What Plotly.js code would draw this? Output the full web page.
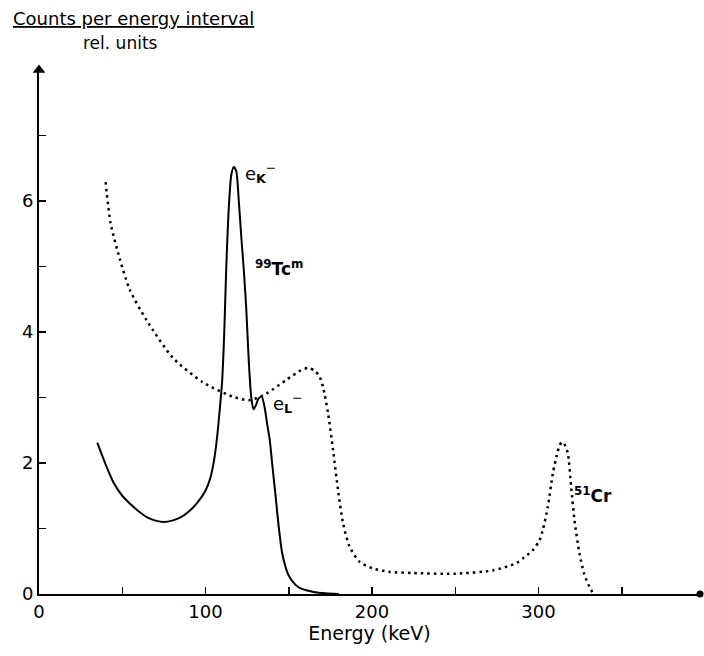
<!DOCTYPE html>
<html>
<head>
<meta charset="utf-8">
<script src="https://cdn.plot.ly/plotly-3.0.1.min.js"></script>
<style>html,body{margin:0;padding:0;background:#fff;}#chart{width:704px;height:656px;}</style>
</head>
<body>
<div id="chart"></div>
<script>
// Tc-99m conversion electron spectrum (solid)
const tcEnergy = [35, 40, 45, 50, 55, 60, 65, 70, 75, 80, 85, 90, 95, 100, 103, 105, 107, 108.5, 110, 111.2, 112.5, 114, 115.5, 117, 118.5, 120, 121.5, 123, 124.5, 126, 127.5, 128.8, 130.2, 132, 133.8, 135.5, 137, 138.6, 140, 142, 144, 146, 148, 150, 153, 156, 160, 165, 172, 180];
const tcCounts = [2.31, 1.98, 1.69, 1.5, 1.37, 1.26, 1.17, 1.12, 1.10, 1.12, 1.17, 1.26, 1.39, 1.58, 1.78, 2.02, 2.4, 2.8, 3.25, 3.95, 5.0, 5.9, 6.4, 6.52, 6.45, 6.0, 5.45, 4.95, 4.35, 3.55, 3.0, 2.82, 2.88, 2.99, 3.01, 2.85, 2.6, 2.35, 2.0, 1.52, 1.02, 0.63, 0.42, 0.28, 0.17, 0.1, 0.06, 0.03, 0.01, 0];

// Cr-51 spectrum (dotted)
const crEnergy = [40, 43, 48.6, 54.6, 64.6, 80.6, 98.6, 116.6, 126.6, 136.6, 148.6, 157, 161.6, 165.6, 168.5, 170.6, 173.6, 176.6, 179.6, 182.6, 186.6, 192.6, 200.6, 210, 224.6, 250, 272.6, 286.6, 291, 296.6, 300.6, 302.6, 305.6, 308.6, 311, 312.7, 314.2, 315.7, 317.6, 319.6, 321.6, 324.6, 327.5, 330.6, 333];
const crCounts = [6.29, 5.66, 5.11, 4.64, 4.18, 3.6, 3.23, 3.01, 2.96, 3.06, 3.27, 3.41, 3.45, 3.41, 3.32, 3.16, 2.76, 2.2, 1.59, 1.08, 0.72, 0.49, 0.39, 0.34, 0.32, 0.31, 0.36, 0.47, 0.55, 0.67, 0.82, 0.98, 1.33, 1.84, 2.12, 2.27, 2.32, 2.28, 2.15, 1.64, 1.13, 0.62, 0.3, 0.11, 0];

// Axis ticks
const xTickVals = [0, 100, 200, 300];
const xTickText = ['0', '100', '200', '300'];
const xMinorVals = [50, 150, 250, 350];
const yTickVals = [0, 2, 4, 6];
const yTickText = ['0', '2', '4', '6'];
const yMinorVals = [1, 3, 5, 7];

const xMax = 397, yMax = 8;
const FONT = 'DejaVu Sans, Liberation Sans, Arial, sans-serif';

const traces = [
  {x: tcEnergy, y: tcCounts, mode: 'lines', line: {color: '#000', width: 2, shape: 'spline', smoothing: 0.7}, hoverinfo: 'skip'},
  {x: crEnergy, y: crCounts, mode: 'lines', line: {color: '#000', width: 2.5, dash: '2.5px,4px', shape: 'spline', smoothing: 0.7}, hoverinfo: 'skip'},
  // axis ends: arrowhead on the y axis, dot at the end of the x axis
  {x: [0], y: [yMax], mode: 'markers', marker: {symbol: 'triangle-up', size: 11, color: '#000'}, cliponaxis: false, hoverinfo: 'skip'},
  {x: [xMax], y: [0], mode: 'markers', marker: {symbol: 'circle', size: 7, color: '#000'}, cliponaxis: false, hoverinfo: 'skip'}
];

const L = 39, W = 661;
function px2paper(px) { return (px - L) / W; }

const annotations = [
  // title
  {xref: 'paper', yref: 'paper', x: px2paper(11), y: 1, yshift: 52, xanchor: 'left', yanchor: 'middle', showarrow: false,
   text: '<u>Counts per energy interval</u>', font: {family: FONT, size: 18, color: '#000'}},
  {xref: 'paper', yref: 'paper', x: px2paper(120), y: 1, yshift: 27, xanchor: 'center', yanchor: 'middle', showarrow: false,
   text: 'rel. units', font: {family: FONT, size: 17, color: '#000'}},
  // peak labels
  {x: 122.3, y: 6.43, xanchor: 'left', yanchor: 'middle', showarrow: false, text: 'e<sub><b>K</b></sub><sup>−</sup>', font: {family: FONT, size: 18, color: '#000'}},
  {x: 128.4, y: 4.98, xanchor: 'left', yanchor: 'middle', showarrow: false, text: '<b><sup>99</sup>Tc<sup>m</sup></b>', font: {family: FONT, size: 17, color: '#000'}},
  {x: 139.6, y: 2.92, xanchor: 'left', yanchor: 'middle', showarrow: false, text: 'e<sub><b>L</b></sub><sup>−</sup>', font: {family: FONT, size: 18, color: '#000'}},
  {x: 320.4, y: 1.51, xanchor: 'left', yanchor: 'middle', showarrow: false, text: '<b><sup>51</sup>Cr</b>', font: {family: FONT, size: 17, color: '#000'}}
];

const layout = {
  width: 704, height: 656,
  margin: {l: L, r: 704 - L - W, t: 70, b: 62},
  paper_bgcolor: '#fff', plot_bgcolor: '#fff',
  showlegend: false,
  font: {family: FONT, color: '#000', size: 16},
  xaxis: {
    range: [0, xMax], showgrid: false, zeroline: false,
    showline: true, linecolor: '#000', linewidth: 2,
    tickmode: 'array', tickvals: xTickVals, ticktext: xTickText,
    ticks: 'inside', ticklen: 7, tickwidth: 1.5, tickcolor: '#000',
    minor: {tickmode: 'array', tickvals: xMinorVals, ticks: 'inside', ticklen: 7, tickwidth: 1.5, tickcolor: '#000', showgrid: false},
    tickfont: {family: FONT, size: 18, color: '#000'},
    title: {text: 'Energy (keV)', font: {family: FONT, size: 19, color: '#000'}, standoff: 6},
    fixedrange: true
  },
  yaxis: {
    range: [0, yMax], showgrid: false, zeroline: false,
    showline: true, linecolor: '#000', linewidth: 2,
    tickmode: 'array', tickvals: yTickVals, ticktext: yTickText,
    ticks: 'inside', ticklen: 7, tickwidth: 1.5, tickcolor: '#000',
    minor: {tickmode: 'array', tickvals: yMinorVals, ticks: 'inside', ticklen: 7, tickwidth: 1.5, tickcolor: '#000', showgrid: false},
    tickfont: {family: FONT, size: 18, color: '#000'},
    fixedrange: true
  },
  annotations: annotations
};

Plotly.newPlot('chart', traces, layout, {displayModeBar: false, staticPlot: true});
</script>
</body>
</html>
